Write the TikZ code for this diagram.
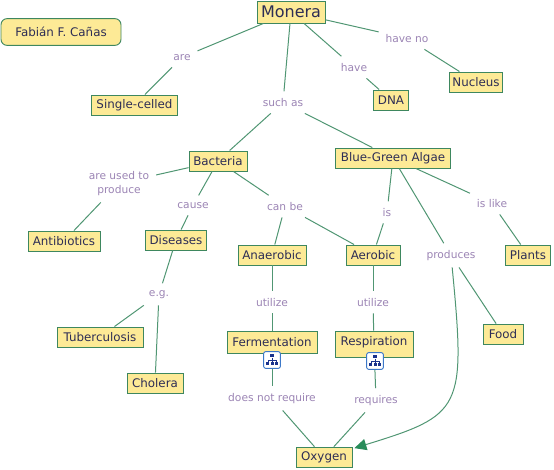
\documentclass[tikz,border=0pt]{standalone}
\usepackage{fontspec}
\setmainfont{DejaVu Sans}
\usetikzlibrary{arrows.meta}
\definecolor{conceptfill}{RGB}{253,234,150}
\definecolor{conceptline}{RGB}{62,135,95}
\definecolor{conceptlink}{RGB}{80,150,115}
\definecolor{arrowhead}{RGB}{40,140,90}
\definecolor{linktext}{RGB}{155,132,180}
\definecolor{concepttext}{RGB}{45,45,85}
\definecolor{iconblue}{RGB}{25,50,140}
\definecolor{iconedge}{RGB}{60,120,200}
\tikzstyle{concept} = [rectangle, draw=conceptline, fill=conceptfill, text=concepttext, font=\fontsize{8.9}{11}\selectfont, line width=0.7pt, inner sep=0pt, minimum height=15pt, text centered]
\tikzstyle{author} = [concept, rounded corners=4.5pt, minimum height=20pt, minimum width=90pt]
\tikzstyle{linklabel} = [text=linktext, font=\fontsize{8}{10.5}\selectfont, inner sep=5pt, align=center, yshift=-1pt]
\tikzstyle{link} = [conceptlink, line width=0.75pt]
\tikzstyle{arrow} = [link, shorten >=1.5pt, -{Triangle[length=9pt,width=8.5pt,color=arrowhead]}]
\tikzstyle{iconbox} = [rectangle, rounded corners=1.5pt, draw=iconedge, fill=white, line width=0.7pt, minimum size=12.5pt, inner sep=0pt]

\begin{document}
\begin{tikzpicture}[x=0.75pt,y=-0.75pt]
\useasboundingbox (0,0) rectangle (554,470);

\node (author) [author] at (61,32) {Fabián F. Cañas};
\node (monera) [concept,minimum width=51pt,minimum height=16.5pt,font=\fontsize{12}{14}\selectfont] at (291,12) {Monera};
\node (single) [concept,minimum width=64pt] at (134.5,105) {Single-celled};
\node (dna) [concept,minimum width=26pt] at (391,100) {DNA};
\node (nucleus) [concept,minimum width=40pt] at (476,82) {Nucleus};
\node (bacteria) [concept,minimum width=43.5pt] at (218,161) {Bacteria};
\node (algae) [concept,minimum width=86pt] at (393,158) {Blue-Green Algae};
\node (antibiotics) [concept,minimum width=54pt] at (64,241) {Antibiotics};
\node (diseases) [concept,minimum width=46pt] at (176,240) {Diseases};
\node (anaerobic) [concept,minimum width=51pt] at (272,255) {Anaerobic};
\node (aerobic) [concept,minimum width=40.5pt] at (373,255) {Aerobic};
\node (plants) [concept,minimum width=34pt] at (528,255) {Plants};
\node (food) [concept,minimum width=30pt] at (503,334) {Food};
\node (tb) [concept,minimum width=64.5pt] at (100,337) {Tuberculosis};
\node (cholera) [concept,minimum width=42pt] at (155,383) {Cholera};
\node (fermentation) [concept,minimum width=67.5pt,minimum height=17pt] at (272,342.5) {Fermentation};
\node (respiration) [concept,minimum width=58.5pt,minimum height=19.5pt,text height=7pt,text depth=5pt] at (374,344) {Respiration};
\node (oxygen) [concept,minimum width=42pt,minimum height=15.5pt] at (324,457.5) {Oxygen};

\node (are) [linklabel] at (182,56) {are};
\node (have) [linklabel] at (354,66) {have};
\node (haveno) [linklabel] at (407,37) {have no};
\node (suchas) [linklabel] at (283,101) {such as};
\node (usedto) [linklabel] at (119,182) {are used to\\produce};
\node (cause) [linklabel] at (193,204) {cause};
\node (canbe) [linklabel] at (285,205) {can be};
\node (is) [linklabel] at (387,211) {is};
\node (produces) [linklabel] at (451,254) {produces};
\node (islike) [linklabel] at (492,202) {is like};
\node (eg) [linklabel] at (159,293) {e.g.};
\node (utilizea) [linklabel] at (272,301) {utilize};
\node (utilizeb) [linklabel] at (373,301) {utilize};
\node (notrequire) [linklabel] at (272,397) {does not require};
\node (requires) [linklabel] at (376,399) {requires};

\draw [link] (monera) -- (are);
\draw [link] (are) -- (single);
\draw [link] (monera) -- (have);
\draw [link] (have) -- (dna);
\draw [link] (monera) -- (haveno);
\draw [link] (haveno) -- (nucleus);
\draw [link] (monera) -- (suchas);
\draw [link] (suchas) -- (bacteria);
\draw [link] (suchas) -- (algae);
\draw [link] (bacteria) -- (usedto);
\draw [link] (usedto) -- (antibiotics);
\draw [link] (bacteria) -- (cause);
\draw [link] (cause) -- (diseases);
\draw [link] (bacteria) -- (canbe);
\draw [link] (canbe) -- (anaerobic);
\draw [link] (canbe) -- (aerobic);
\draw [link] (algae) -- (is);
\draw [link] (is) -- (aerobic);
\draw [link] (algae) -- (produces);
\draw [link] (produces) -- (food);
\draw [link] (algae) -- (islike);
\draw [link] (islike) -- (plants);
\draw [link] (diseases) -- (eg);
\draw [link] (eg) -- (tb);
\draw [link] (eg) -- (cholera);
\draw [link] (anaerobic) -- (utilizea);
\draw [link] (utilizea) -- (fermentation);
\draw [link] (aerobic) -- (utilizeb);
\draw [link] (utilizeb) -- (respiration);
\draw [link] (fermentation) -- (notrequire);
\draw [link] (notrequire) -- (oxygen);
\draw [link] (respiration) -- (requires);
\draw [link] (requires) -- (oxygen);
\draw [arrow] (produces) .. controls (466,410) and (462,415) .. (oxygen);

% submap icons
\foreach \name/\x/\y in {mapa/272/360,mapb/375/361}{
  \node (\name) [iconbox] at (\x,\y) {};
  \draw [iconblue,line width=0.6pt] (\x,\y-2) -- (\x,\y+4) (\x-4,\y+3) -- (\x-4,\y) -- (\x+4,\y) -- (\x+4,\y+3);
  \fill [iconblue] (\x-2,\y-6) rectangle (\x+2,\y-3);
  \fill [iconblue] (\x-6,\y+2) rectangle (\x-3,\y+5);
  \fill [iconblue] (\x+3,\y+2) rectangle (\x+6,\y+5);
  \fill [iconblue] (\x-1.5,\y+2) rectangle (\x+1.5,\y+5);
}
\end{tikzpicture}
\end{document}
